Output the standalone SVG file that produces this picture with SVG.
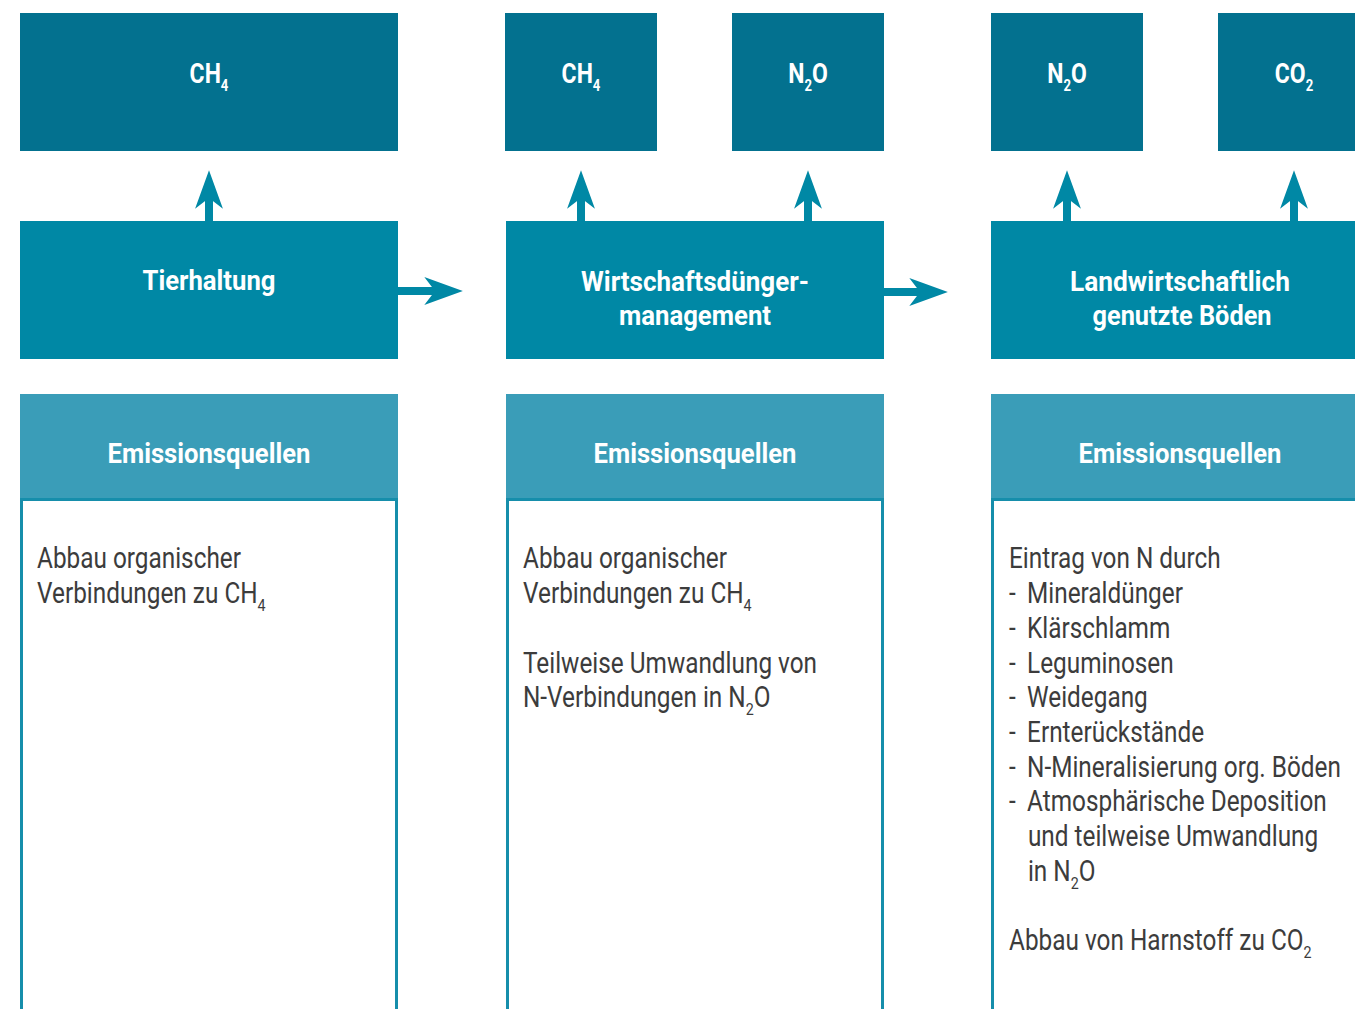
<svg xmlns="http://www.w3.org/2000/svg" width="1355" height="1009" viewBox="0 0 1355 1009">
<style>
.gas{fill:#03718F}
.proc{fill:#0088A5}
.hdr{fill:#3A9DB8}
.body{fill:#FFFFFF;stroke:#168EAB;stroke-width:3}
.tw{font-family:Roboto,"Liberation Sans",sans-serif;font-weight:700;fill:#FFFFFF;font-size:27px}
.tf{font-family:Roboto,"Liberation Sans",sans-serif;font-weight:700;fill:#FFFFFF;font-size:28px}
.tb{font-family:Roboto,"Liberation Sans",sans-serif;font-weight:400;fill:#3C3C3C;font-size:29px}
.arr{stroke:#0088A5;stroke-width:8;fill:none}
</style>
<defs>
<marker id="head" markerUnits="userSpaceOnUse" markerWidth="40" markerHeight="30" viewBox="0 -14 37 28" refX="10" refY="0" orient="auto" overflow="visible">
<path d="M0,-13 L36,0 L0,13 L10,0 Z" fill="#0088A5"/>
</marker>
</defs>

<g id="connectors">
<line class="arr" x1="209" y1="222" x2="209" y2="198" marker-end="url(#head)"/>
<line class="arr" x1="581" y1="222" x2="581" y2="198" marker-end="url(#head)"/>
<line class="arr" x1="808" y1="222" x2="808" y2="198" marker-end="url(#head)"/>
<line class="arr" x1="1067" y1="222" x2="1067" y2="198" marker-end="url(#head)"/>
<line class="arr" x1="1294" y1="222" x2="1294" y2="198" marker-end="url(#head)"/>
<line class="arr" x1="397" y1="291" x2="435" y2="291" marker-end="url(#head)"/>
<line class="arr" x1="883" y1="292" x2="920" y2="292" marker-end="url(#head)"/>
</g>

<g id="gas-ch4-1">
<rect class="gas" x="20" y="13" width="378" height="138"/>
<text class="tf" transform="translate(209,83) scale(0.82,1)" text-anchor="middle">CH<tspan font-size="16" dy="8">4</tspan></text>
</g>
<g id="gas-ch4-2">
<rect class="gas" x="505" y="13" width="152" height="138"/>
<text class="tf" transform="translate(581,83) scale(0.82,1)" text-anchor="middle">CH<tspan font-size="16" dy="8">4</tspan></text>
</g>
<g id="gas-n2o-2">
<rect class="gas" x="732" y="13" width="152" height="138"/>
<text class="tf" transform="translate(808,83) scale(0.82,1)" text-anchor="middle">N<tspan font-size="16" dy="8">2</tspan><tspan dy="-8">O</tspan></text>
</g>
<g id="gas-n2o-3">
<rect class="gas" x="991" y="13" width="152" height="138"/>
<text class="tf" transform="translate(1067,83) scale(0.82,1)" text-anchor="middle">N<tspan font-size="16" dy="8">2</tspan><tspan dy="-8">O</tspan></text>
</g>
<g id="gas-co2-3">
<rect class="gas" x="1218" y="13" width="152" height="138"/>
<text class="tf" transform="translate(1294,83) scale(0.82,1)" text-anchor="middle">CO<tspan font-size="16" dy="8">2</tspan></text>
</g>

<g id="proc-tierhaltung">
<rect class="proc" x="20" y="221" width="378" height="138"/>
<text class="tw" x="209" y="290" text-anchor="middle" textLength="133" lengthAdjust="spacingAndGlyphs">Tierhaltung</text>
</g>
<g id="proc-wirtschaftsduenger">
<rect class="proc" x="506" y="221" width="378" height="138"/>
<text class="tw" x="695" y="291" text-anchor="middle" textLength="228" lengthAdjust="spacingAndGlyphs">Wirtschaftsdünger-</text>
<text class="tw" x="695" y="325" text-anchor="middle" textLength="152" lengthAdjust="spacingAndGlyphs">management</text>
</g>
<g id="proc-boeden">
<rect class="proc" x="991" y="221" width="378" height="138"/>
<text class="tw" x="1180" y="291" text-anchor="middle" textLength="220" lengthAdjust="spacingAndGlyphs">Landwirtschaftlich</text>
<text class="tw" x="1182" y="325" text-anchor="middle" textLength="179" lengthAdjust="spacingAndGlyphs">genutzte Böden</text>
</g>

<g id="quellen-1">
<rect class="hdr" x="20" y="394" width="378" height="105"/>
<rect class="body" x="21.5" y="499.5" width="375" height="530"/>
<text class="tw" x="209" y="463" text-anchor="middle" textLength="203" lengthAdjust="spacingAndGlyphs">Emissionsquellen</text>
<g transform="translate(37,0) scale(0.84,1)">
<text class="tb" x="0" y="568.5">Abbau organischer</text>
<text class="tb" x="0" y="603.2">Verbindungen zu CH<tspan font-size="17" dy="8">4</tspan></text>
</g>
</g>

<g id="quellen-2">
<rect class="hdr" x="506" y="394" width="378" height="105"/>
<rect class="body" x="507.5" y="499.5" width="375" height="530"/>
<text class="tw" x="695" y="463" text-anchor="middle" textLength="203" lengthAdjust="spacingAndGlyphs">Emissionsquellen</text>
<g transform="translate(523,0) scale(0.84,1)">
<text class="tb" x="0" y="568.5">Abbau organischer</text>
<text class="tb" x="0" y="603.2">Verbindungen zu CH<tspan font-size="17" dy="8">4</tspan></text>
<text class="tb" x="0" y="672.6">Teilweise Umwandlung von</text>
<text class="tb" x="0" y="707.3">N-Verbindungen in N<tspan font-size="17" dy="8">2</tspan><tspan dy="-8">O</tspan></text>
</g>
</g>

<g id="quellen-3">
<rect class="hdr" x="991" y="394" width="378" height="105"/>
<rect class="body" x="992.5" y="499.5" width="375" height="530"/>
<text class="tw" x="1180" y="463" text-anchor="middle" textLength="203" lengthAdjust="spacingAndGlyphs">Emissionsquellen</text>
<g transform="translate(1009,0) scale(0.84,1)">
<text class="tb" x="0" y="568.5">Eintrag von N durch</text>
<text class="tb" x="0" y="603.2">-</text><text class="tb" x="21.5" y="603.2">Mineraldünger</text>
<text class="tb" x="0" y="637.9">-</text><text class="tb" x="21.5" y="637.9">Klärschlamm</text>
<text class="tb" x="0" y="672.6">-</text><text class="tb" x="21.5" y="672.6">Leguminosen</text>
<text class="tb" x="0" y="707.3">-</text><text class="tb" x="21.5" y="707.3">Weidegang</text>
<text class="tb" x="0" y="742">-</text><text class="tb" x="21.5" y="742">Ernterückstände</text>
<text class="tb" x="0" y="776.7">-</text><text class="tb" x="21.5" y="776.7">N-Mineralisierung org. Böden</text>
<text class="tb" x="0" y="811.4">-</text><text class="tb" x="21.5" y="811.4">Atmosphärische Deposition</text>
<text class="tb" x="22.5" y="846.1">und teilweise Umwandlung</text>
<text class="tb" x="22.5" y="880.8">in N<tspan font-size="17" dy="8">2</tspan><tspan dy="-8">O</tspan></text>
<text class="tb" x="0" y="950.2">Abbau von Harnstoff zu CO<tspan font-size="17" dy="8">2</tspan></text>
</g>
</g>
</svg>
